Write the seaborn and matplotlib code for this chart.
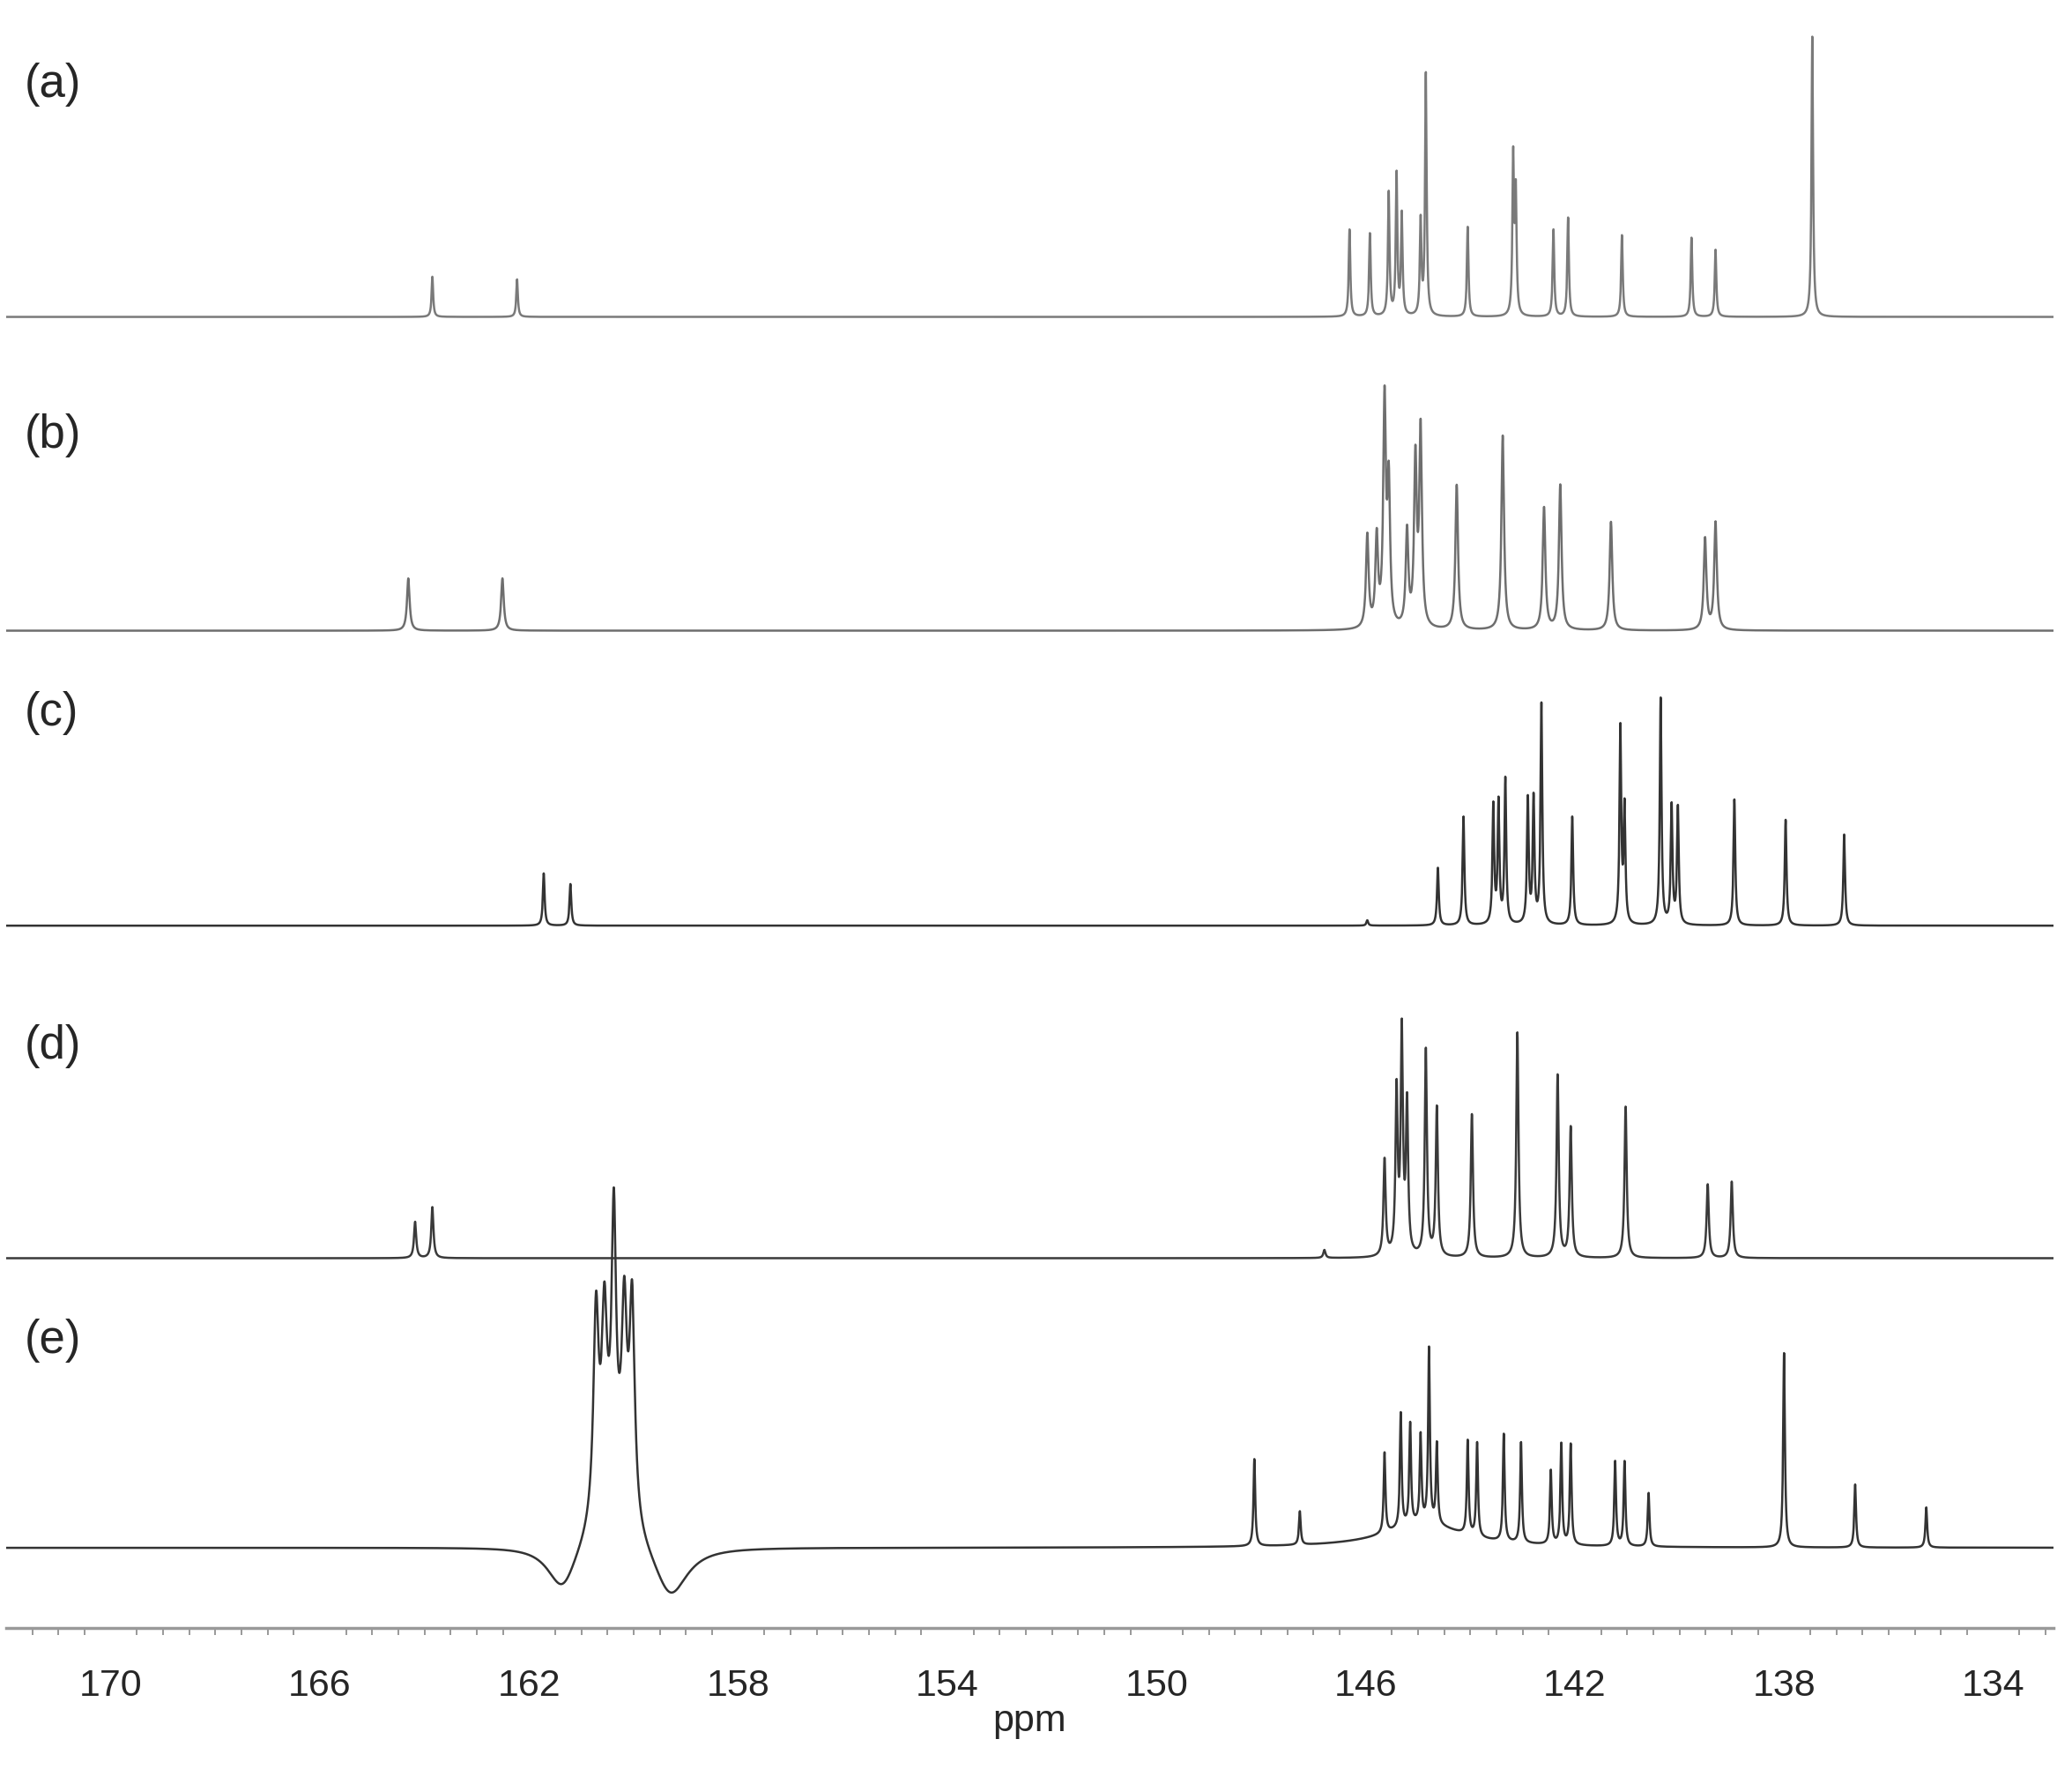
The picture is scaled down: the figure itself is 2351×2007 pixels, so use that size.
import numpy as np
import matplotlib
matplotlib.use("Agg")
import matplotlib.pyplot as plt
import seaborn as sns

sns.set_style("white")
plt.rcParams['font.family'] = ['Liberation Sans', 'DejaVu Sans']

labels = ["(a)", "(b)", "(c)", "(d)", "(e)"]
offsets = [1083, 849, 629, 381, 165]
colors = ["#7a7a7a", "#6e6e6e", "#333333", "#3a3a3a", "#333333"]

a_ppm = [163.85, 162.23, 146.31, 145.92, 145.56, 145.41, 145.31, 144.95, 144.85, 144.05, 143.18, 143.13, 142.41, 142.13, 141.10, 139.77, 139.31, 137.46]
a_h = [30, 28, 65, 62, 92, 105, 75, 70, 180, 67, 117, 89, 65, 74, 61, 59, 50, 209]

b_ppm = [164.31, 162.51, 145.97, 145.79, 145.64, 145.56, 145.21, 145.05, 144.95, 144.26, 143.38, 142.59, 142.28, 141.31, 139.51, 139.31]
b_h = [39, 39, 69, 66, 166, 103, 71, 123, 146, 108, 145, 91, 108, 81, 68, 80]

c_ppm = [161.72, 161.21, 145.97, 144.62, 144.13, 143.56, 143.46, 143.33, 142.90, 142.79, 142.64, 142.05, 141.13, 141.05, 140.36, 140.15, 140.03, 138.95, 137.97, 136.85]
c_h = [39, 31, 4, 43, 81, 88, 90, 108, 93, 93, 164, 81, 146, 86, 169, 88, 87, 94, 79, 68]

d_ppm = [164.18, 163.85, 146.79, 145.64, 145.41, 145.31, 145.21, 144.85, 144.64, 143.97, 143.10, 142.33, 142.08, 141.03, 139.46, 139.00]
d_h = [27, 38, 6, 72, 121, 164, 111, 154, 111, 107, 168, 136, 97, 113, 55, 57]

e_ppm = [160.72, 160.56, 160.38, 160.18, 160.03, 160.40, 161.36, 159.30, 144.90,
         148.13, 147.26, 145.64, 145.33, 145.15, 144.95, 144.79, 144.64, 144.05, 143.87,
         143.36, 143.03, 142.46, 142.26, 142.08, 141.23, 141.05, 140.59, 138.00, 136.64, 135.28]
e_h = [150, 125, 190, 135, 160, 55, -35, -40, 18,
       65, 25, 60, 85, 75, 65, 130, 60, 70, 70, 80, 75, 55, 75, 75, 63, 63, 40, 145, 47, 30]
e_w = [0.06, 0.06, 0.05, 0.06, 0.06, 0.35, 0.35, 0.4, 0.9] + [0.02] * 21

spectra = [(a_ppm, a_h, None), (b_ppm, b_h, None), (c_ppm, c_h, None), (d_ppm, d_h, None), (e_ppm, e_h, e_w)]
widths = [0.018, 0.03, 0.02, 0.025]

x = np.linspace(132.85, 172.0, 20000)

fig = plt.figure(figsize=(23.51, 20.08), dpi=100)
ax = fig.add_axes([0.003, 0.0795, 0.988, 0.9205])

for k, (pp, hh, ww) in enumerate(spectra):
    y = np.zeros_like(x)
    for i, (p, h) in enumerate(zip(pp, hh)):
        w = ww[i] if ww is not None else widths[k]
        y += h * w**2 / ((x - p)**2 + w**2)
    sns.lineplot(x=x, y=y + offsets[k], ax=ax, color=colors[k], lw=1.8,
                 estimator=None, sort=False)
    ax.text(171.65, 1320 - [63, 325, 532, 780, 1000][k], labels[k], fontsize=38,
            va="center", ha="left")

ax.set_xlim(172.0, 132.85)
ax.set_ylim(105, 1320)
ax.set_xticks(np.arange(134, 171, 4))
ax.set_xticks(np.arange(133, 172, 0.5), minor=True)
ax.tick_params(axis="x", which="major", length=10, width=1.5, color="#888888", labelsize=31, pad=22)
ax.tick_params(axis="x", which="minor", length=6, width=1.2, color="#888888", bottom=True)
ax.set_yticks([])
for s in ["top", "left", "right"]:
    ax.spines[s].set_visible(False)
ax.spines["bottom"].set_color("#999999")
ax.spines["bottom"].set_linewidth(2.5)
ax.set_xlabel("ppm", fontsize=31, labelpad=0)
fig.savefig("out.png", dpi=100)
